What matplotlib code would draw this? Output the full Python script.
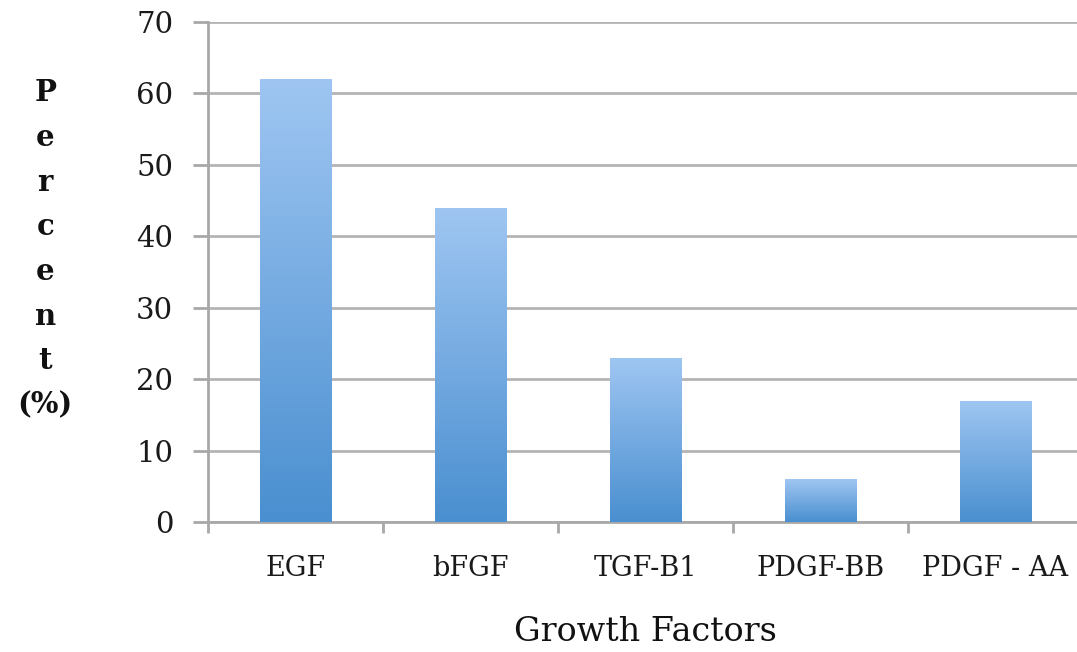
import numpy as np
import matplotlib.pyplot as plt
from matplotlib.colors import LinearSegmentedColormap

# Growth factor response data
factors = ["EGF", "bFGF", "TGF-B1", "PDGF-BB", "PDGF - AA"]
percent = [62, 44, 23, 6, 17]
y_ticks = [0, 10, 20, 30, 40, 50, 60, 70]

fig = plt.figure(figsize=(10.77, 6.52), dpi=100)
ax = fig.add_axes([0.1931, 0.1994, 0.8125, 0.7669])

x = np.arange(len(factors))
bars = ax.bar(x, percent, width=0.41, color="none", zorder=3)

# vertical gradient fill, lighter at the top
cmap = LinearSegmentedColormap.from_list("barfill", ["#4a8fd0", "#9fc6f2"])
grad = np.linspace(0, 1, 256).reshape(-1, 1)
for b in bars:
    x0, y0 = b.get_x(), b.get_y()
    im = ax.imshow(grad, cmap=cmap, origin="lower", aspect="auto",
                   extent=[x0, x0 + b.get_width(), y0, y0 + b.get_height()],
                   zorder=3)
    im.set_clip_path(b)

ax.set_xlim(-0.5, len(factors) - 0.5)
ax.set_ylim(0, 70)
ax.set_yticks(y_ticks)
ax.yaxis.grid(True, color="#b4b4b4", linewidth=2, zorder=0)
ax.set_axisbelow(True)

for s in ["top", "right"]:
    ax.spines[s].set_visible(False)
ax.spines["left"].set_color("#a8a8a8")
ax.spines["left"].set_linewidth(2)
ax.spines["bottom"].set_color("#a8a8a8")
ax.spines["bottom"].set_linewidth(2)

ax.set_xticks(x)
ax.set_xticklabels(factors)
ax.set_xticks(np.arange(len(factors) + 1) - 0.5, minor=True)
ax.tick_params(axis="x", which="major", length=0, pad=24,
               labelsize=19.5, labelcolor="#1a1a1a")
ax.tick_params(axis="x", which="minor", length=8, width=2, color="#a8a8a8")
ax.tick_params(axis="y", length=11, width=2, color="#a8a8a8", pad=14,
               labelsize=21, labelcolor="#1a1a1a")
for lab in ax.get_xticklabels() + ax.get_yticklabels():
    lab.set_family("DejaVu Serif")

ax.set_xlabel("Growth Factors", family="DejaVu Serif", fontsize=24,
              color="#111111", labelpad=24)

fig.text(0.042, 0.618, "P\ne\nr\nc\ne\nn\nt\n(%)", family="DejaVu Serif",
         fontsize=21, fontweight="bold", ha="center", va="center",
         linespacing=1.68, color="#111111")

fig.savefig("out.png", dpi=100)
